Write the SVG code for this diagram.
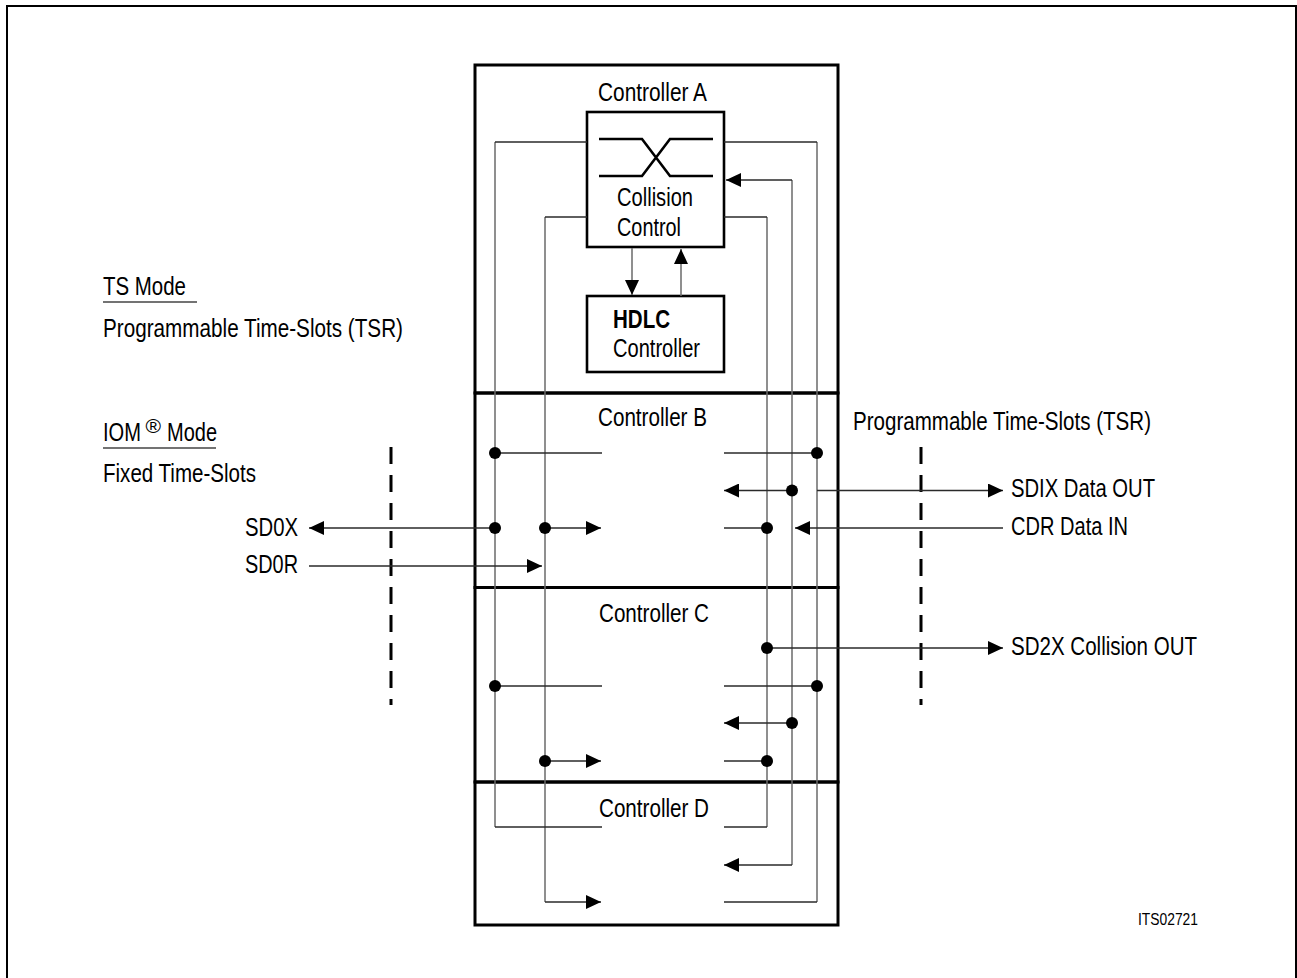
<svg xmlns="http://www.w3.org/2000/svg" width="1297" height="978" viewBox="0 0 1297 978">
<style>
  text { font-family: "Liberation Sans", Arial, sans-serif; font-size: 25px; fill: #000; }
  .b { font-weight: bold; }
  .box { fill: none; stroke: #000; stroke-width: 3; }
  .blk { fill: none; stroke: #000; stroke-width: 2.6; }
  .v { fill: none; stroke: #6a6a6a; stroke-width: 1.5; }
  .h { fill: none; stroke: #2a2a2a; stroke-width: 1.4; }
  .ha { fill: none; stroke: #2a2a2a; stroke-width: 1.4; marker-end: url(#arr); }
  .va { fill: none; stroke: #6a6a6a; stroke-width: 1.5; marker-end: url(#arr); }
  .d { fill: #000; }
  .dash { fill: none; stroke: #000; stroke-width: 3; stroke-dasharray: 17 11; }
  .ul { fill: none; stroke: #444; stroke-width: 1.3; }
</style>
<defs>
  <marker id="arr" viewBox="0 0 15 14" refX="15" refY="7" markerWidth="15" markerHeight="14" markerUnits="userSpaceOnUse" orient="auto">
    <path d="M0,0 L15,7 L0,14 Z" fill="#000"/>
  </marker>
</defs>
<rect width="1297" height="978" fill="#fff"/>
<g id="frame">
  <path d="M7,978 V6 H1296 V978" fill="none" stroke="#000" stroke-width="2"/>
</g>
<g id="controller-a">
  <rect class="box" x="475" y="65" width="363" height="328"/>
  <text x="598" y="101" textLength="109" lengthAdjust="spacingAndGlyphs">Controller A</text>
</g>
<g id="controller-b">
  <rect class="box" x="475" y="393" width="363" height="194.5"/>
  <text x="598" y="426" textLength="109" lengthAdjust="spacingAndGlyphs">Controller B</text>
</g>
<g id="controller-c">
  <rect class="box" x="475" y="587.5" width="363" height="194.5"/>
  <text x="599" y="622" textLength="110" lengthAdjust="spacingAndGlyphs">Controller C</text>
</g>
<g id="controller-d">
  <rect class="box" x="475" y="782" width="363" height="143"/>
  <text x="599" y="817" textLength="110" lengthAdjust="spacingAndGlyphs">Controller D</text>
</g>
<g id="collision-control">
  <rect class="blk" x="587" y="112" width="137" height="135"/>
  <path class="blk" d="M599,139 H642 L670,176 H713 M599,176 H642 L670,139 H713"/>
  <text x="617" y="206" textLength="76" lengthAdjust="spacingAndGlyphs">Collision</text>
  <text x="617" y="236" textLength="64" lengthAdjust="spacingAndGlyphs">Control</text>
</g>
<g id="hdlc-controller">
  <rect class="blk" x="587" y="296" width="137" height="76"/>
  <text class="b" x="613" y="328" textLength="57" lengthAdjust="spacingAndGlyphs">HDLC</text>
  <text x="613" y="357" textLength="87" lengthAdjust="spacingAndGlyphs">Controller</text>
</g>
<g id="labels-left">
  <text x="103" y="295" textLength="83" lengthAdjust="spacingAndGlyphs">TS Mode</text>
  <line class="ul" x1="103" y1="302" x2="197" y2="302"/>
  <text x="103" y="337" textLength="300" lengthAdjust="spacingAndGlyphs">Programmable Time-Slots (TSR)</text>
  <text x="103" y="441"><tspan textLength="38" lengthAdjust="spacingAndGlyphs">IOM</tspan><tspan x="145.5" y="433" style="font-size:20px" textLength="15.5" lengthAdjust="spacingAndGlyphs">®</tspan><tspan x="167" y="441" textLength="50" lengthAdjust="spacingAndGlyphs">Mode</tspan></text>
  <line class="ul" x1="103" y1="448" x2="216" y2="448"/>
  <text x="103" y="482" textLength="153" lengthAdjust="spacingAndGlyphs">Fixed Time-Slots</text>
  <text x="245" y="536" textLength="53" lengthAdjust="spacingAndGlyphs">SD0X</text>
  <text x="245" y="573" textLength="53" lengthAdjust="spacingAndGlyphs">SD0R</text>
</g>
<g id="labels-right">
  <text x="853" y="430" textLength="298" lengthAdjust="spacingAndGlyphs">Programmable Time-Slots (TSR)</text>
  <text x="1011" y="497" textLength="144" lengthAdjust="spacingAndGlyphs">SDIX Data OUT</text>
  <text x="1011" y="535" textLength="117" lengthAdjust="spacingAndGlyphs">CDR Data IN</text>
  <text x="1011" y="655" textLength="186" lengthAdjust="spacingAndGlyphs">SD2X Collision OUT</text>
  <text x="1138" y="925" style="font-size:16px" textLength="60" lengthAdjust="spacingAndGlyphs">ITS02721</text>
</g>
<g id="boundaries">
  <line class="dash" x1="391" y1="447" x2="391" y2="705"/>
  <line class="dash" x1="921" y1="447" x2="921" y2="705"/>
</g>
<g id="connectors">
  <line class="v" x1="495" y1="142" x2="495" y2="827"/>
  <line class="v" x1="545" y1="217" x2="545" y2="902"/>
  <line class="v" x1="767" y1="217" x2="767" y2="827"/>
  <line class="v" x1="792" y1="180" x2="792" y2="865"/>
  <line class="v" x1="817" y1="142" x2="817" y2="902"/>
  <line class="h" x1="587" y1="142" x2="495" y2="142"/>
  <line class="h" x1="724" y1="142" x2="817" y2="142"/>
  <line class="h" x1="587" y1="217" x2="545" y2="217"/>
  <line class="h" x1="724" y1="217" x2="767" y2="217"/>
  <line class="ha" x1="792" y1="180" x2="726" y2="180"/>
  <line class="va" x1="632" y1="248" x2="632" y2="295"/>
  <line class="va" x1="681" y1="296" x2="681" y2="249"/>
  <line class="h" x1="495" y1="453" x2="602" y2="453"/>
  <line class="h" x1="724" y1="453" x2="817" y2="453"/>
  <line class="ha" x1="792" y1="490.5" x2="724" y2="490.5"/>
  <line class="ha" x1="817" y1="490.5" x2="1003" y2="490.5"/>
  <line class="ha" x1="495" y1="528" x2="309" y2="528"/>
  <line class="ha" x1="545" y1="528" x2="601" y2="528"/>
  <line class="h" x1="724" y1="528" x2="767" y2="528"/>
  <line class="ha" x1="1003" y1="528" x2="795" y2="528"/>
  <line class="ha" x1="309" y1="566" x2="542" y2="566"/>
  <line class="ha" x1="767" y1="648" x2="1003" y2="648"/>
  <line class="h" x1="495" y1="686" x2="602" y2="686"/>
  <line class="h" x1="724" y1="686" x2="817" y2="686"/>
  <line class="ha" x1="792" y1="723" x2="724" y2="723"/>
  <line class="ha" x1="545" y1="761" x2="601" y2="761"/>
  <line class="h" x1="724" y1="761" x2="767" y2="761"/>
  <line class="h" x1="495" y1="827" x2="602" y2="827"/>
  <line class="h" x1="724" y1="827" x2="767" y2="827"/>
  <line class="ha" x1="792" y1="865" x2="724" y2="865"/>
  <line class="ha" x1="545" y1="902" x2="601" y2="902"/>
  <line class="h" x1="724" y1="902" x2="817" y2="902"/>
  <circle class="d" cx="495" cy="453" r="6"/>
  <circle class="d" cx="817" cy="453" r="6"/>
  <circle class="d" cx="792" cy="490.5" r="6"/>
  <circle class="d" cx="495" cy="528" r="6"/>
  <circle class="d" cx="545" cy="528" r="6"/>
  <circle class="d" cx="767" cy="528" r="6"/>
  <circle class="d" cx="767" cy="648" r="6"/>
  <circle class="d" cx="495" cy="686" r="6"/>
  <circle class="d" cx="817" cy="686" r="6"/>
  <circle class="d" cx="792" cy="723" r="6"/>
  <circle class="d" cx="545" cy="761" r="6"/>
  <circle class="d" cx="767" cy="761" r="6"/>
</g>
</svg>
